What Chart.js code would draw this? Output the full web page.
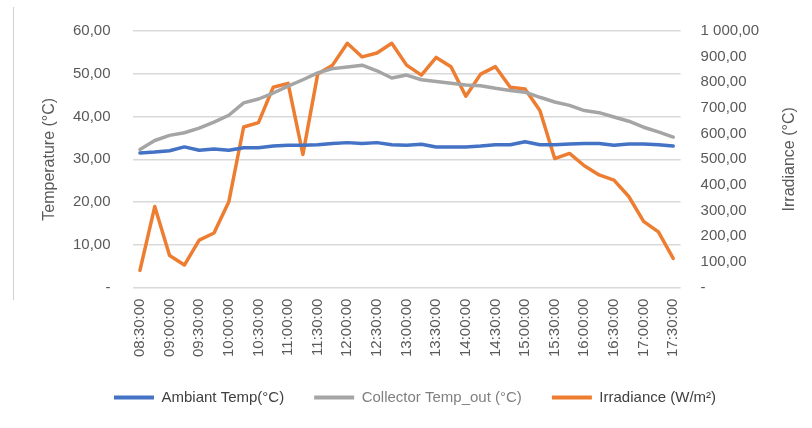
<!DOCTYPE html>
<html>
<head>
<meta charset="utf-8">
<script src="https://cdn.jsdelivr.net/npm/chart.js@4"></script>
<style>
  html, body { margin: 0; padding: 0; background: #fff; }
  #wrap { position: relative; width: 812px; height: 428px; }
  #edge { position: absolute; left: 13px; top: 7px; width: 1px; height: 293px; background: #d0d0d0; }
</style>
</head>
<body>
<div id="wrap">
  <div id="edge"></div>
  <canvas id="myChart"></canvas>
</div>
<script>
// 15 minute readings, 08:30 -> 17:30
const times = [
  "08:30:00", "08:45:00", "09:00:00", "09:15:00", "09:30:00", "09:45:00", "10:00:00", "10:15:00",
  "10:30:00", "10:45:00", "11:00:00", "11:15:00", "11:30:00", "11:45:00", "12:00:00", "12:15:00",
  "12:30:00", "12:45:00", "13:00:00", "13:15:00", "13:30:00", "13:45:00", "14:00:00", "14:15:00",
  "14:30:00", "14:45:00", "15:00:00", "15:15:00", "15:30:00", "15:45:00", "16:00:00", "16:15:00",
  "16:30:00", "16:45:00", "17:00:00", "17:15:00", "17:30:00"
];

const ambiantTemp = [
  31.5, 31.7, 32.0, 32.9, 32.1, 32.4, 32.1, 32.7, 32.7, 33.1, 33.3, 33.3, 33.4, 33.7, 33.9, 33.7,
  33.9, 33.4, 33.3, 33.5, 32.9, 32.9, 32.9, 33.1, 33.4, 33.4, 34.1, 33.4, 33.4, 33.6, 33.7, 33.7,
  33.3, 33.6, 33.6, 33.4, 33.1
];

const collectorTemp = [
  32.3, 34.4, 35.6, 36.2, 37.3, 38.7, 40.3, 43.2, 44.1, 45.5, 47.1, 48.6, 50.2, 51.2, 51.6, 52.0,
  50.7, 49.0, 49.7, 48.6, 48.2, 47.8, 47.4, 47.2, 46.6, 46.1, 45.7, 44.5, 43.4, 42.6, 41.4, 40.9,
  39.9, 38.9, 37.5, 36.4, 35.2
];

const irradiance = [
  67, 316, 125, 88, 185, 213, 335, 626, 643, 781, 796, 519, 832, 867, 952, 899,
  914, 952, 867, 828, 897, 861, 746, 832, 861, 781, 774, 690, 503, 523, 475, 439,
  419, 355, 258, 217, 114
];

const seriesNames = ["Ambiant Temp(°C)", "Collector Temp_out (°C)", "Irradiance (W/m²)"];
const seriesColors = ["#4472C4", "#A5A5A5", "#ED7D31"];
const legendTextColors = ["#404040", "#7f7f7f", "#404040"];

const leftTitle = "Temperature (°C)";
const rightTitle = "Irradiance (°C)";

const fontFamily = "'Liberation Sans', Arial, sans-serif";
const tickGray = "#595959";

// "1 000,00" style, zero shown as "-"
function fmt(v) {
  if (v === 0) return "-";
  let parts = v.toFixed(2).split(".");
  let intPart = parts[0].replace(/\B(?=(\d{3})+(?!\d))/g, " ");
  return intPart + "," + parts[1];
}

// both axis titles read bottom to top
const axisTitlesPlugin = {
  id: "axisTitles",
  afterDraw(chart) {
    const ctx = chart.ctx;
    const area = chart.chartArea;
    const midY = (area.top + area.bottom) / 2;
    [[50, leftTitle], [790, rightTitle]].forEach(([x, text]) => {
      ctx.save();
      ctx.translate(x, midY);
      ctx.rotate(-Math.PI / 2);
      ctx.font = "16px " + fontFamily;
      ctx.fillStyle = tickGray;
      ctx.textAlign = "center";
      ctx.textBaseline = "middle";
      ctx.fillText(text, 0, 0);
      ctx.restore();
    });
  }
};

new Chart(document.getElementById("myChart"), {
  type: "line",
  data: {
    labels: times,
    datasets: [
      { label: seriesNames[0], data: ambiantTemp, borderColor: seriesColors[0], backgroundColor: seriesColors[0], yAxisID: "y" },
      { label: seriesNames[1], data: collectorTemp, borderColor: seriesColors[1], backgroundColor: seriesColors[1], yAxisID: "y" },
      { label: seriesNames[2], data: irradiance, borderColor: seriesColors[2], backgroundColor: seriesColors[2], yAxisID: "y1" }
    ]
  },
  options: {
    responsive: true,
    maintainAspectRatio: false,
    animation: false,
    elements: {
      point: { radius: 0 },
      line: { borderWidth: 3.5, tension: 0, borderJoinStyle: "round", borderCapStyle: "round" }
    },
    layout: { padding: { left: 51, right: 33, top: 16, bottom: 13 } },
    scales: {
      x: {
        offset: true,
        grid: { display: false },
        border: { display: false },
        ticks: {
          autoSkip: false,
          maxRotation: 90,
          minRotation: 90,
          padding: 3,
          color: tickGray,
          font: { family: fontFamily, size: 15 },
          callback: function (val, index) {
            return index % 2 === 0 ? this.getLabelForValue(val) : "";
          }
        }
      },
      y: {
        position: "left",
        min: 0,
        max: 60,
        grid: { color: "#d9d9d9", lineWidth: 1.5, drawTicks: false },
        border: { display: false },
        ticks: {
          stepSize: 10,
          padding: 22,
          color: tickGray,
          font: { family: fontFamily, size: 15 },
          callback: (v) => fmt(v)
        }
      },
      y1: {
        position: "right",
        min: 0,
        max: 1000,
        grid: { drawOnChartArea: false, drawTicks: false },
        border: { display: false },
        ticks: {
          stepSize: 100,
          padding: 20,
          color: tickGray,
          font: { family: fontFamily, size: 15 },
          callback: (v) => fmt(v)
        }
      }
    },
    plugins: {
      tooltip: { enabled: false },
      legend: {
        position: "bottom",
        labels: {
          boxWidth: 40,
          boxHeight: 4,
          padding: 30,
          font: { family: fontFamily, size: 15 },
          generateLabels: (chart) => chart.data.datasets.map((ds, i) => ({
            text: ds.label,
            fillStyle: seriesColors[i],
            strokeStyle: seriesColors[i],
            lineWidth: 0,
            fontColor: legendTextColors[i],
            hidden: false,
            datasetIndex: i
          }))
        }
      }
    }
  },
  plugins: [axisTitlesPlugin]
});
</script>
</body>
</html>
